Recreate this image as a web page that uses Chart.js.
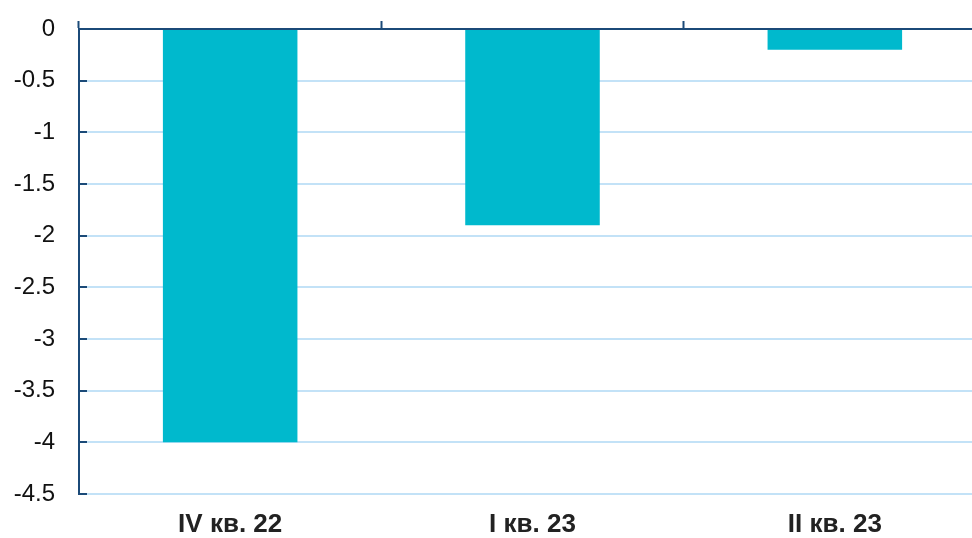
<!DOCTYPE html>
<html>
<head>
<meta charset="utf-8">
<script src="https://cdn.jsdelivr.net/npm/chart.js@4/dist/chart.umd.min.js"></script>
<style>
html,body{margin:0;padding:0;background:#fff;overflow:hidden;}
#wrap{width:986px;height:538px;position:relative;}
</style>
</head>
<body>
<div id="wrap"><canvas id="c"></canvas></div>
<script>
const categories = ["IV кв. 22", "I кв. 23", "II кв. 23"];
const values = [-4.0, -1.9, -0.2];
const yTicks = [0, -0.5, -1, -1.5, -2, -2.5, -3, -3.5, -4, -4.5];

const AXIS = '#1B4A78';
const GRID = '#C3E2F7';
const BAR = '#00B9CD';

const innerTicks = {
  id: 'innerTicks',
  afterDraw(chart) {
    const y = chart.scales.y;
    const ctx = chart.ctx;
    const left = chart.chartArea.left;
    ctx.save();
    ctx.strokeStyle = AXIS;
    ctx.lineWidth = 2;
    y.ticks.forEach(t => {
      const py = Math.round(y.getPixelForValue(t.value));
      ctx.beginPath();
      ctx.moveTo(left, py);
      ctx.lineTo(left + 8, py);
      ctx.stroke();
    });
    ctx.restore();
  }
};

new Chart(document.getElementById('c'), {
  type: 'bar',
  data: {
    labels: categories,
    datasets: [{
      data: values,
      backgroundColor: BAR,
      borderWidth: 0,
      barPercentage: 1,
      categoryPercentage: 0.445,
      xAxisID: 'x'
    }]
  },
  options: {
    responsive: true,
    maintainAspectRatio: false,
    animation: false,
    layout: { padding: { left: 0, right: 0, top: 0, bottom: 0 } },
    plugins: { legend: { display: false }, tooltip: { enabled: false } },
    scales: {
      x: {
        position: 'bottom',
        grid: { display: false },
        border: { display: false },
        ticks: {
          color: '#222',
          font: { family: 'Liberation Sans, Arial, sans-serif', size: 26, weight: 'bold' },
          padding: 7,
          maxRotation: 0
        },
        afterFit(s) { s.height = 44; s.paddingLeft = 0; s.paddingRight = 0; }
      },
      x2: {
        type: 'category',
        labels: categories,
        position: 'top',
        offset: true,
        grid: {
          offset: true,
          drawOnChartArea: false,
          drawTicks: true,
          tickLength: 8,
          tickWidth: 2,
          tickColor: AXIS
        },
        border: { display: true, color: AXIS, width: 2 },
        ticks: { display: false },
        afterFit(s) { s.height = 29; s.paddingLeft = 0; s.paddingRight = 0; }
      },
      y: {
        min: -4.5,
        max: 0,
        afterBuildTicks(s) { s.ticks = yTicks.map(v => ({ value: v })); },
        grid: {
          color: ctx => (ctx.tick && ctx.tick.value === 0) ? 'rgba(0,0,0,0)' : GRID,
          lineWidth: 2,
          drawTicks: false
        },
        border: { display: true, color: AXIS, width: 2 },
        ticks: {
          color: '#111',
          font: { family: 'Liberation Sans, Arial, sans-serif', size: 24 },
          padding: 24,
          callback: v => String(v)
        },
        afterFit(s) { s.width = 79; s.paddingTop = 0; s.paddingBottom = 0; }
      }
    }
  },
  plugins: [innerTicks]
});
</script>
</body>
</html>
